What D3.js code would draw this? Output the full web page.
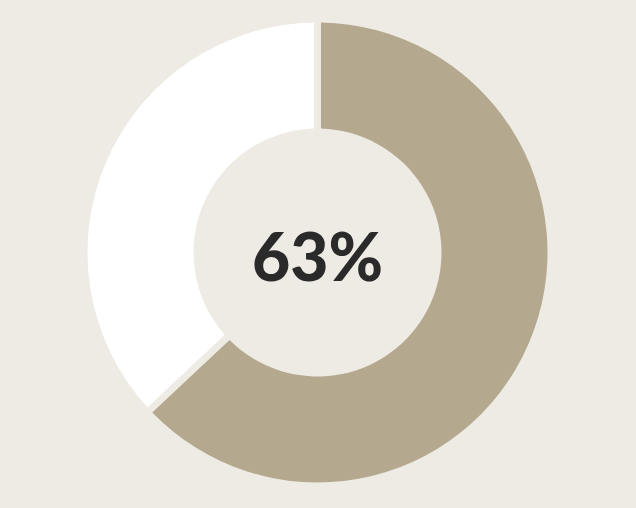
<!DOCTYPE html>
<html>
<head>
<meta charset="utf-8">
<script src="https://cdn.jsdelivr.net/npm/d3@7"></script>
<style>
  html, body { margin: 0; padding: 0; background: #eeebe4; }
</style>
</head>
<body>
<div id="myVis"></div>
<script>
var width = 636;
var height = 508;

// data
var labels = ["Yes", "Other"];
var values = [63, 37];
var colors = ["#b4a88f", "#ffffff"];

var centerX = 317.5;
var centerY = 252.5;

var canvas = d3.select("#myVis")
                .append("svg")
                .attr("width", width)
                .attr("height", height)
                .style("background-color", "#eeebe4")
                .style("display", "block");

var pie = d3.pie()
            .sort(null)
            .value(function(d) { return d; });

var arc = d3.arc()
            .innerRadius(124)
            .outerRadius(230)
            .padRadius(100)
            .padAngle(0.07); // ~7px gap between slices

var g = canvas.append("g")
        .attr("transform", "translate(" + centerX + "," + centerY + ")");

g.selectAll("path")
  .data(pie(values))
  .enter()
  .append("path")
  .attr("d", arc)
  .attr("fill", function(d, i) { return colors[i]; });

g.append("text")
  .attr("x", 0)
  .attr("y", 28)
  .attr("text-anchor", "middle")
  .style("font-family", "Lato, 'Open Sans', sans-serif")
  .style("font-weight", "900")
  .style("font-size", "66px")
  .style("fill", "#2a2a2a")
  .text(Math.round(values[0]) + "%");
</script>
</body>
</html>
